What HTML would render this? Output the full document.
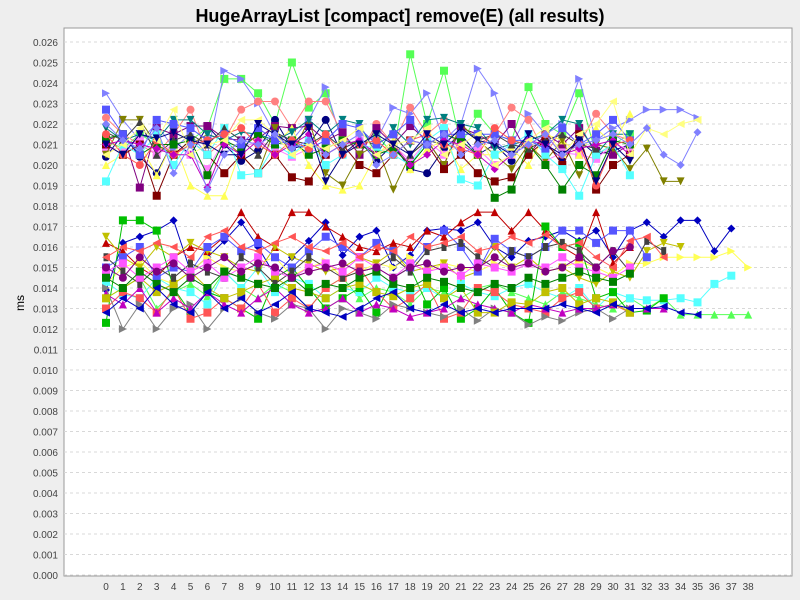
<!DOCTYPE html>
<html><head><meta charset="utf-8"><style>
body{margin:0;background:#eeeeee;font-family:"Liberation Sans",sans-serif}
svg{display:block}
</style></head><body>
<svg id="chart" width="800" height="600" xmlns="http://www.w3.org/2000/svg">
<rect x="0" y="0" width="800" height="600" fill="#eeeeee"/>
<text x="400" y="22" text-anchor="middle" font-size="18" font-weight="bold" fill="#000">HugeArrayList [compact] remove(E) (all results)</text>
<rect x="64" y="28" width="728" height="548" fill="#ffffff" stroke="#999"/>
<g id="grid"></g><g id="yticks"></g><g id="xticks"></g><g id="series"></g>
<text x="0" y="0" transform="translate(24,303) rotate(-90)" text-anchor="middle" font-size="12">ms</text>
</svg>
<script>
// values in units of 0.0001 ms
const yTickValues=[0,1,2,3,4,5,6,7,8,9,10,11,12,13,14,15,16,17,18,19,20,21,22,23,24,25,26];
const xCategories=[0,1,2,3,4,5,6,7,8,9,10,11,12,13,14,15,16,17,18,19,20,21,22,23,24,25,26,27,28,29,30,31,32,33,34,35,36,37,38];
const U1=[212,208,215,210,205,212,218,242,242,235,220,250,228,235,212,210,215,205,254,220,246,210,225,215,212,238,220,215,235,205,210,215];
const U2=[235,222,212,220,208,215,205,246,242,230,215,212,222,238,210,215,212,228,225,235,212,220,247,235,210,225,215,220,242,212,218,222,227,227,227,223];
const U3=[223,215,210,205,215,227,205,212,227,231,231,218,231,231,215,205,220,210,228,215,222,205,210,215,228,222,205,218,210,225,215,212];
const U4=[204,215,204,196,212,205,219,210,202,207,222,208,210,222,205,212,202,210,198,196,208,215,205,210,202,215,210,203,212,205,207,210];
const U5=[212,215,189,218,215,219,219,213,212,213,219,218,219,212,216,205,218,210,219,212,200,218,215,210,220,205,215,210,218,207,205,210];
const U6=[208,208,212,205,210,205,198,212,208,212,208,204,208,205,210,212,205,210,202,212,205,210,208,200,205,210,202,206,205,203,210,208];
const U7=[200,205,210,195,212,190,185,185,208,215,210,218,200,190,188,190,205,212,198,208,212,198,205,205,208,200,215,212,205,218,210,225];
const U8=[205,222,222,210,205,210,215,212,205,196,218,205,222,196,190,205,210,188,205,212,200,220,212,205,198,210,202,212,195,210,208,198,208,192,192];
const U9=[210,205,210,185,205,212,205,196,205,196,205,194,192,205,210,200,196,205,212,210,198,205,196,192,194,205,212,200,215,188,200,205];
const U10=[218,212,215,212,222,222,215,212,216,215,212,216,222,215,222,220,205,218,210,222,223,220,218,208,210,212,215,222,220,205,215,215];
const U11=[192,210,205,215,200,212,205,218,195,196,210,205,212,200,205,210,208,205,200,212,218,193,190,205,210,215,205,198,185,205,210,195];
const U12=[216,212,221,205,212,215,210,218,212,205,216,212,210,215,208,212,210,215,205,212,210,218,212,215,210,208,212,215,210,208];
const U13=[213,215,205,210,210,212,195,212,208,215,210,212,205,208,212,210,205,208,200,210,215,212,205,184,188,210,200,188,200,195,212,210];
const U14=[227,215,205,222,220,218,212,215,210,218,212,210,208,212,220,218,210,215,222,210,215,215,215,215,212,212,208,218,210,215,222,212];
const U15=[215,205,200,212,205,210,212,215,218,210,205,212,208,215,205,210,212,205,212,215,210,208,205,218,212,210,215,205,210,190,210,212];
const U16=[210,212,210,208,205,205,189,210,205,212,205,210,215,205,210,212,205,210,200,205,212,210,205,198,205,212,210,205,208,210,212,205];
const U17=[205,210,218,212,227,205,210,212,222,222,215,205,210,208,212,218,205,210,212,218,205,210,215,200,205,212,218,205,215,220,231,205,218,215,220,222];
const U18=[210,205,215,213,216,212,210,205,205,220,215,210,218,192,205,210,215,210,205,215,210,218,212,210,205,215,210,205,212,192,210,202];
const U19=[220,212,208,218,196,210,188,205,212,210,215,208,212,205,210,215,200,205,212,210,215,205,210,212,205,210,215,205,210,212,215,210,218,205,200,216];
const L1=[139,162,165,168,173,148,155,163,172,160,146,155,163,172,156,165,168,150,156,168,169,168,172,160,155,163,165,168,163,168,155,168,172,165,173,173,158,169];
const L2=[142,150,153,145,142,148,155,150,148,152,155,146,150,153,145,148,152,150,155,148,152,150,148,152,150,155,148,150,153,150,146,152,152,155,155,155,155,158,150];
const L3=[135,140,145,130,138,142,136,148,140,135,142,138,130,140,145,135,140,138,132,140,138,135,140,142,138,135,132,138,135,132,130,135,130,135,127,127,127,127,127];
const L4=[143,137,135,145,140,138,132,148,140,150,138,145,142,135,140,138,145,140,138,140,135,142,138,136,140,142,138,135,140,130,138,135,134,134,135,133,142,146];
const L5=[162,158,150,145,155,160,158,165,177,165,160,177,177,170,165,160,158,162,160,168,165,172,177,177,168,177,168,160,155,177,152,160];
const L6=[123,173,173,168,140,128,138,135,130,125,145,150,140,130,135,140,128,145,150,132,140,125,130,140,128,123,170,160,162,135,138,128,129,135];
const L7=[130,138,135,128,140,125,128,135,130,142,128,135,130,140,145,150,138,130,135,142,125,128,140,138,132,130,128,135,138,130,132,128];
const L8=[165,155,150,160,155,162,158,155,150,148,160,155,152,148,150,155,152,158,148,150,152,145,148,160,150,155,148,150,145,142,148,145,158,162,160];
const L9=[140,120,132,120,130,132,120,130,135,128,125,132,130,120,130,128,125,132,130,128,126,130,124,130,128,122,126,124,128,130,125,130];
const L10=[150,155,160,145,150,148,160,165,158,162,155,150,158,165,160,155,162,158,150,160,168,160,148,164,158,155,160,168,168,162,168,168,155];
const L11=[137,132,140,128,135,130,138,132,128,135,140,132,128,130,135,128,132,130,126,128,130,135,132,130,128,132,130,128,130,130,132,130,130,130];
const L12=[135,140,145,138,142,148,140,135,138,142,145,140,138,135,140,142,138,136,140,142,135,140,128,128,133,132,138,140,132,135,133,128];
const L13=[155,148,142,150,145,152,148,145,155,150,142,148,155,150,145,148,150,155,148,158,160,162,155,150,158,155,160,162,158,150,158,148,163,158];
const L14=[148,152,145,150,155,148,152,145,150,155,148,145,150,152,148,155,150,145,152,148,150,146,152,150,148,152,150,155,150,148,145,150];
const L15=[145,140,148,142,138,145,140,148,145,142,140,145,138,142,140,145,148,142,140,145,143,140,138,142,140,145,142,145,148,145,143,147];
const L16=[150,145,155,148,152,145,150,155,148,152,150,145,148,150,152,148,150,145,150,152,148,150,150,155,150,152,148,150,155,150,158,160];
const L17=[155,160,158,162,160,155,165,168,160,158,162,165,160,158,162,155,160,158,165,160,162,165,158,160,165,162,166,160,162,155,150,163,165,155];
const L18=[128,135,130,140,132,128,138,130,135,128,132,138,130,128,126,130,135,138,130,128,132,128,130,128,130,130,130,132,130,128,132,130,130,131,128,127];
const seriesList=[U1,U2,U3,U4,U5,U6,U7,U8,U9,U10,U11,U12,U13,U14,U15,U16,U17,U18,U19,L1,L2,L3,L4,L5,L6,L7,L8,L9,L10,L11,L12,L13,L14,L15,L16,L17,L18];
const seriesColors=["#55FF55","#8080FF","#FF8080","#000080","#800080","#FF80FF","#FFFF55","#808000","#800000","#008080","#55FFFF","#404040","#008000","#5555FF","#FF5555","#C000C0","#FFFF80","#000080","#8080FF",
"#0000C0","#FFFF55","#55FF55","#55FFFF","#C00000","#00C000","#FF5555","#C0C000","#808080","#5555FF","#C000C0","#C0C000","#404040","#FF55FF","#008000","#800080","#FF5555","#0000C0"];
const seriesShapes=["square","tright","circle","circle","square","square","tup","tdown","square","tdown","square","tup","square","square","circle","diamond","tleft","tdown","diamond",
"diamond","tright","tup","square","tup","square","square","tdown","tright","square","tup","square","vrect","square","square","circle","tleft","tleft"];

const NS="http://www.w3.org/2000/svg";
const X0=106,XS=16.9,Y0=575,YS=2.05;
function xPos(i){return X0+i*XS;}
function yPos(v){return Y0-v*YS;}
function mk(tag,attrs,parent){const e=document.createElementNS(NS,tag);for(const k in attrs)e.setAttribute(k,attrs[k]);parent.appendChild(e);return e;}
const grid=document.getElementById('grid'),yt=document.getElementById('yticks'),xt=document.getElementById('xticks'),sg=document.getElementById('series');
yTickValues.forEach(v=>{
  const y=yPos(v*10);
  const l=mk('line',{x1:64,x2:792,y1:y,y2:y,stroke:'#d8d8d8','stroke-dasharray':'3,3'},grid);
  
  
  const t=mk('text',{x:58,y:y+4,'text-anchor':'end','font-size':'10',fill:'#444'},yt);
  t.textContent=(v/1000).toFixed(3);
  
  
});
xCategories.forEach(c=>{
  const t=mk('text',{x:xPos(c),y:590,'text-anchor':'middle','font-size':'10',fill:'#444'},xt);
  t.textContent=c;
  
  
});
function marker(shape,x,y,col,g){
  const s=4;let e;
  if(shape==='square')e=mk('rect',{x:x-s,y:y-s,width:2*s,height:2*s},g);
  else if(shape==='circle')e=mk('circle',{cx:x,cy:y,r:s},g);
  else if(shape==='vrect')e=mk('rect',{x:x-2.5,y:y-s,width:5,height:2*s},g);
  else{
    let p;
    if(shape==='tup')p=[[x,y-s],[x+s,y+s],[x-s,y+s]];
    else if(shape==='tdown')p=[[x-s,y-s],[x+s,y-s],[x,y+s]];
    else if(shape==='tright')p=[[x-s,y-s],[x+s,y],[x-s,y+s]];
    else if(shape==='tleft')p=[[x+s,y-s],[x-s,y],[x+s,y+s]];
    else p=[[x,y-s],[x+s,y],[x,y+s],[x-s,y]];
    e=mk('polygon',{points:p.map(q=>q.join(',')).join(' ')},g);
  }
  e.setAttribute('fill',col);
  
  
}
seriesList.forEach((data,si)=>{
  const g=mk('g',{},sg);
  
  
  const col=seriesColors[si];
  const pl=mk('polyline',{points:data.map((v,i)=>xPos(i)+','+yPos(v)).join(' '),fill:'none',stroke:col,'stroke-width':1},g);
  
  
  data.forEach((v,i)=>marker(seriesShapes[si],xPos(i),yPos(v),col,g));
});
</script>
</body></html>
